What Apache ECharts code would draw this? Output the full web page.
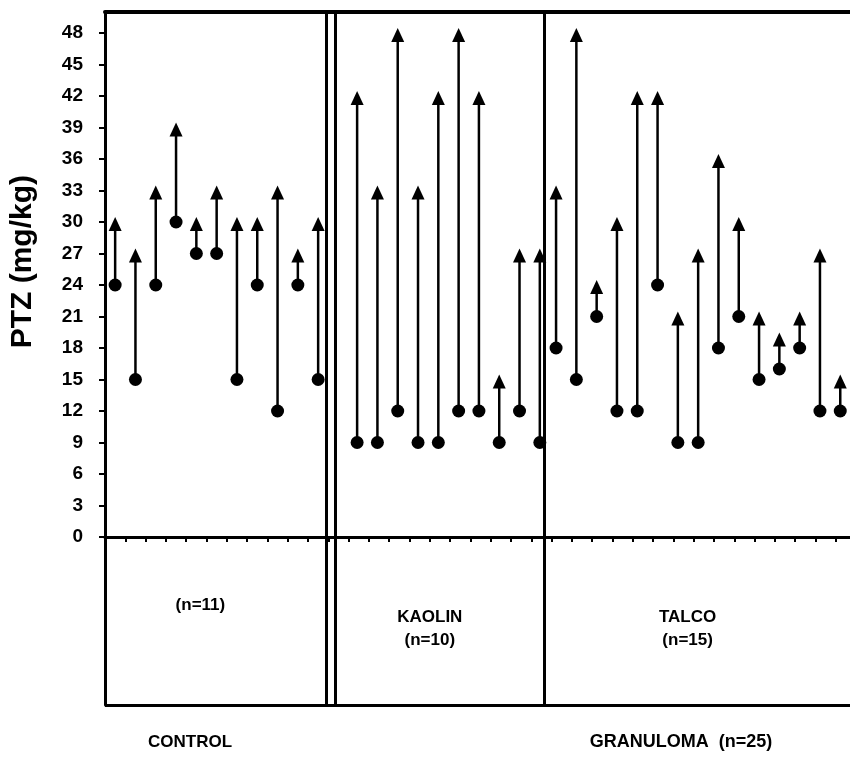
<!DOCTYPE html>
<html>
<head>
<meta charset="utf-8">
<title>PTZ</title>
<script src="https://cdn.jsdelivr.net/npm/echarts@6/dist/echarts.min.js"></script>
<style>
  html, body { margin: 0; padding: 0; background: #fff; }
  #main { width: 850px; height: 781px; }
</style>
</head>
<body>
<div id="main"></div>
<script>
// 各组数据：起始剂量(圆点) -> 终止剂量(箭头)
var controlStart = [24, 15, 24, 30, 27, 27, 15, 24, 12, 24, 15];
var controlEnd   = [30, 27, 33, 39, 30, 33, 30, 30, 33, 27, 30];
var kaolinStart  = [9, 9, 12, 9, 9, 12, 12, 9, 12, 9];
var kaolinEnd    = [42, 33, 48, 33, 42, 48, 42, 15, 27, 27];
var talcoStart   = [18, 15, 21, 12, 12, 24, 9, 9, 18, 21, 15, 16, 18, 12, 12];
var talcoEnd     = [33, 48, 24, 30, 42, 42, 21, 27, 36, 30, 21, 19, 21, 27, 15];

var yTicks = [0, 3, 6, 9, 12, 15, 18, 21, 24, 27, 30, 33, 36, 39, 42, 45, 48];
var groupLabels = ['(n=11)', 'KAOLIN\n(n=10)', 'TALCO\n(n=15)'];
var bottomLabels = ['CONTROL', 'GRANULOMA  (n=25)'];

var FONT = '"Liberation Sans", Arial, sans-serif';

// 每组在x轴上的起点
var groupOffset = [0, 11.92, 21.72];
var groupLabelX = [4.2, 15.5, 28.2];
var groupLabelY = [-6.5, -8.7, -8.7];

function buildItems(starts, ends, offset) {
  var res = [];
  for (var i = 0; i < starts.length; i++) {
    res.push([offset + i, starts[i], ends[i]]);
  }
  return res;
}

var items = []
  .concat(buildItems(controlStart, controlEnd, groupOffset[0]))
  .concat(buildItems(kaolinStart, kaolinEnd, groupOffset[1]))
  .concat(buildItems(talcoStart, talcoEnd, groupOffset[2]));

// x轴下方刻度位置
var xTicks = [];
for (var k = 0; k < 36; k++) {
  xTicks.push(k + 0.5);
}

function renderArrow(params, api) {
  var p0 = api.coord([api.value(0), api.value(1)]);
  var p1 = api.coord([api.value(0), api.value(2)]);
  return {
    type: 'group',
    children: [
      {
        type: 'line',
        shape: { x1: p0[0], y1: p0[1], x2: p1[0], y2: p1[1] + 6 },
        style: { stroke: '#000', lineWidth: 2.5 }
      },
      {
        type: 'circle',
        shape: { cx: p0[0], cy: p0[1], r: 6.5 },
        style: { fill: '#000' }
      },
      {
        type: 'polygon',
        shape: { points: [[p1[0], p1[1] - 5], [p1[0] - 6.5, p1[1] + 9], [p1[0] + 6.5, p1[1] + 9]] },
        style: { fill: '#000' }
      }
    ]
  };
}

var myChart = echarts.init(document.getElementById('main'));

var option = {
  backgroundColor: '#fff',
  animation: false,
  grid: { left: 105, right: 0, top: 12, bottom: 76 },
  xAxis: [
    {
      type: 'value',
      min: -0.5,
      max: 36.2,
      position: 'bottom',
      axisLine: { onZero: true, lineStyle: { color: '#000', width: 3 } },
      axisTick: { show: true, inside: false, length: 5, customValues: xTicks, lineStyle: { color: '#000', width: 2 } },
      axisLabel: { show: false },
      splitLine: { show: false }
    },
    { // 顶部边框
      type: 'value',
      min: -0.5,
      max: 36.2,
      position: 'top',
      axisLine: { onZero: false, lineStyle: { color: '#000', width: 4 } },
      axisTick: { show: false },
      axisLabel: { show: false },
      splitLine: { show: false }
    }
  ],
  yAxis: {
    type: 'value',
    min: -16,
    max: 50,
    axisLine: { show: true, onZero: false, lineStyle: { color: '#000', width: 3 } },
    axisTick: { show: true, inside: false, length: 6, customValues: yTicks, lineStyle: { color: '#000', width: 2 } },
    axisLabel: {
      customValues: yTicks,
      margin: 22,
      color: '#000',
      fontFamily: FONT,
      fontWeight: 'bold',
      fontSize: 19
    },
    splitLine: { show: false }
  },
  series: [
    {
      type: 'custom',
      renderItem: renderArrow,
      data: items,
      silent: true,
      markLine: { // 分组竖线及下框
        silent: true,
        symbol: ['none', 'none'],
        label: { show: false },
        lineStyle: { color: '#000', width: 3, type: 'solid' },
        data: [
          { xAxis: 10.42 },
          { xAxis: 10.84 },
          { xAxis: 21.15 },
          { yAxis: -16 }
        ]
      }
    },
    { // 下方分组文字
      type: 'scatter',
      symbolSize: 0,
      silent: true,
      itemStyle: { opacity: 1 },
      label: {
        show: true,
        position: 'inside',
        formatter: function (p) { return p.data.name; },
        color: '#000',
        fontFamily: FONT,
        fontWeight: 'bold',
        fontSize: 17,
        lineHeight: 23,
        align: 'center',
        verticalAlign: 'middle'
      },
      data: groupLabels.map(function (name, i) {
        return { name: name, value: [groupLabelX[i], groupLabelY[i]] };
      })
    }
  ],
  graphic: [
    {
      type: 'text',
      left: 8,
      top: 175,
      rotation: Math.PI / 2,
      style: {
        text: 'PTZ (mg/kg)',
        fill: '#000',
        font: 'bold 30px ' + FONT
      }
    },
    {
      type: 'text',
      style: { text: bottomLabels[0], x: 190, y: 742, align: 'center', verticalAlign: 'middle', fill: '#000', font: 'bold 17px ' + FONT }
    },
    {
      type: 'text',
      style: { text: bottomLabels[1], x: 681, y: 742, align: 'center', verticalAlign: 'middle', fill: '#000', font: 'bold 18px ' + FONT }
    }
  ]
};

myChart.setOption(option);
</script>
</body>
</html>
